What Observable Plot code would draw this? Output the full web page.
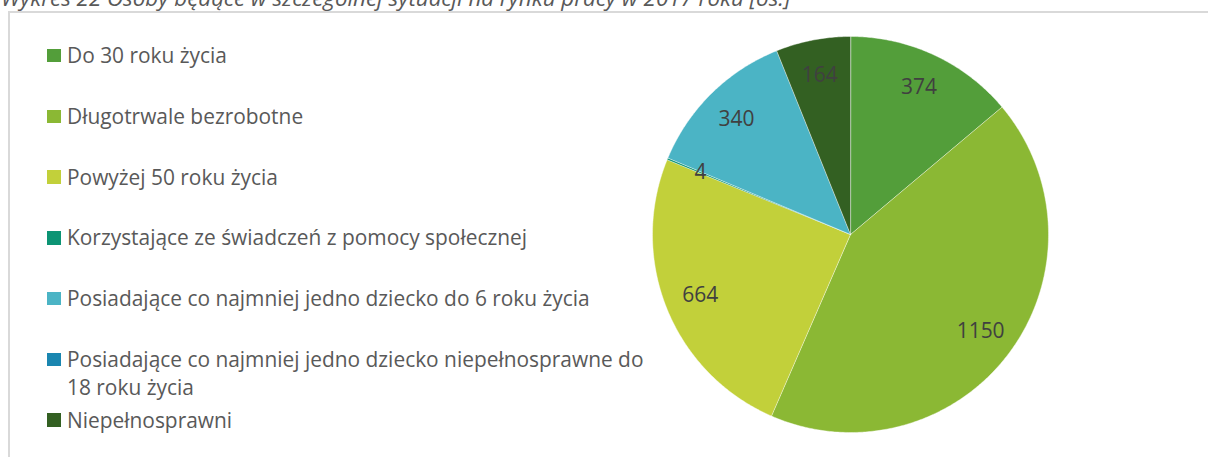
<!DOCTYPE html>
<html lang="pl">
<head>
<meta charset="utf-8">
<script src="https://cdn.jsdelivr.net/npm/d3@7"></script>
<script src="https://cdn.jsdelivr.net/npm/@observablehq/plot@0.6"></script>
<style>
  html, body { margin: 0; padding: 0; background: #fff; overflow: hidden; }
  #wrap { position: relative; width: 1208px; height: 457px; overflow: hidden; font-family: "Open Sans", sans-serif; }
  #title { position: absolute; left: 1px; white-space: nowrap; font-style: italic; color: #595959; }
  #frame { position: absolute; left: 8px; top: 11px; width: 1300px; height: 600px; border-top: 2px solid #d9d9d9; border-left: 2px solid #d9d9d9; box-sizing: border-box; }
  #legend { position: absolute; left: 47px; top: 0; width: 620px; height: 457px; color: #595959; }
  .item { position: absolute; left: 0; width: 605px; padding-left: 20px; line-height: 28px; box-sizing: border-box; }
  .sw { position: absolute; left: 0; width: 13.5px; height: 13.5px; }
  #pie { position: absolute; left: 650px; top: 34px; }
</style>
</head>
<body>
<div id="wrap">
  <div id="frame"></div>
  <div id="title"></div>
  <div id="legend"></div>
  <div id="pie"></div>
</div>
<script>
const title = "Wykres 22 Osoby będące w szczególnej sytuacji na rynku pracy w 2017 roku [os.]";
const categories = [
  "Do 30 roku życia",
  "Długotrwale bezrobotne",
  "Powyżej 50 roku życia",
  "Korzystające ze świadczeń z pomocy społecznej",
  "Posiadające co najmniej jedno dziecko do 6 roku życia",
  "Posiadające co najmniej jedno dziecko niepełnosprawne do 18 roku życia",
  "Niepełnosprawni"
];
const values = [374, 1150, 664, 4, 340, 0, 164];
const colors = ["#539e3a", "#8bb834", "#c2d03a", "#0c9474", "#4bb4c5", "#1a86b0", "#336022"];

// font-size fitting by measuring text
const ctx = document.createElement("canvas").getContext("2d");
function fitSize(text, style, target) {
  ctx.font = `${style} 100px "Open Sans"`;
  return 100 * target / ctx.measureText(text).width;
}

// title (top clipped as in the reference)
const tfs = fitSize(title, "italic", 790);
const titleEl = document.getElementById("title");
titleEl.textContent = title;
titleEl.style.fontSize = tfs + "px";
titleEl.style.lineHeight = tfs + "px";
titleEl.style.top = (6.5 - 0.888 * tfs) + "px";

// legend: entries at a constant pitch (wrapped entry overflows its slot)
const lfs = fitSize("Posiadające co najmniej jedno dziecko niepełnosprawne do", "", 577);
const legendEl = document.getElementById("legend");
legendEl.style.fontSize = lfs + "px";
const LH = 28, PITCH = 60.75;
const baseInLine = (LH - 1.362 * lfs) / 2 + 1.069 * lfs;
const firstBaseline = 63.2;
categories.forEach((c, i) => {
  const it = document.createElement("div");
  it.className = "item";
  it.style.top = (firstBaseline - baseInLine + i * PITCH) + "px";
  const sw = document.createElement("span");
  sw.className = "sw";
  sw.style.background = colors[i];
  sw.style.top = (baseInLine - 0.357 * lfs - 6.75) + "px";
  const tx = document.createElement("span");
  tx.textContent = c;
  it.appendChild(sw);
  it.appendChild(tx);
  legendEl.appendChild(it);
});

// pie geometry from d3.pie
const arcs = d3.pie().sort(null)(values);
const poly = [];
const labels = [];
arcs.forEach((a, i) => {
  if (values[i] <= 0) return;
  poly.push({cat: categories[i], x: 0, y: 0});
  const n = Math.max(2, Math.ceil((a.endAngle - a.startAngle) / (Math.PI / 360)));
  for (let k = 0; k <= n; k++) {
    const t = a.startAngle + (a.endAngle - a.startAngle) * k / n;
    poly.push({cat: categories[i], x: Math.sin(t), y: Math.cos(t)});
  }
  const m = (a.startAngle + a.endAngle) / 2;
  labels.push({x: 0.82 * Math.sin(m), y: 0.82 * Math.cos(m), v: String(values[i])});
});

const pfs = fitSize("1150", "", 48);
const D = 1.0101;
const chart = Plot.plot({
  width: 400,
  height: 400,
  margin: 0,
  x: {domain: [-D, D], axis: null},
  y: {domain: [-D, D], axis: null},
  color: {domain: categories, range: colors},
  style: {background: "transparent", fontFamily: "Open Sans", overflow: "visible"},
  marks: [
    Plot.line(poly, {x: "x", y: "y", z: "cat", fill: "cat", stroke: "white", strokeWidth: 0.6, strokeOpacity: 0.7, curve: "linear-closed"}),
    Plot.text(labels, {x: "x", y: "y", text: "v", fill: "#404040", fontSize: pfs})
  ]
});
document.getElementById("pie").appendChild(chart);
</script>
</body>
</html>
